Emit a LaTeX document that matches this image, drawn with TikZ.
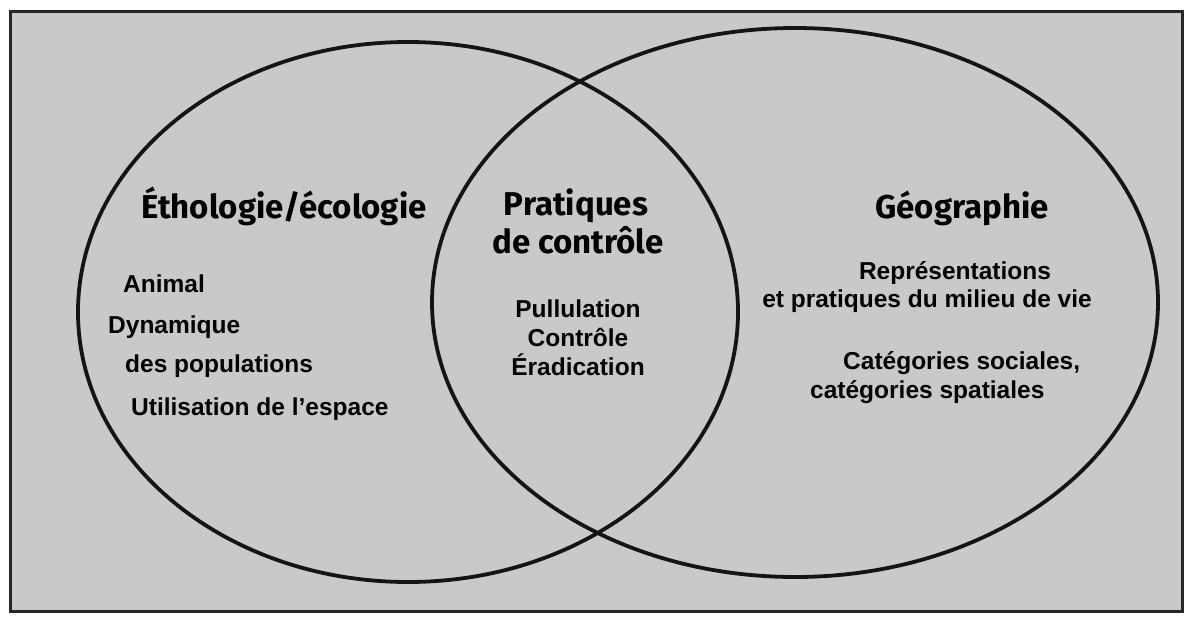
\documentclass[tikz,border=0pt]{standalone}
\usepackage{fontspec}
\setmainfont{Liberation Sans}
\newfontfamily\titlefont{Fira Sans}
\definecolor{paper}{gray}{0.79}
\begin{document}
\begin{tikzpicture}[x=1pt,y=-1pt,
  title/.style={inner sep=0pt, anchor=base, font=\titlefont\bfseries\fontsize{33}{38}\selectfont},
  item/.style={inner sep=0pt, font=\bfseries\fontsize{24.5}{28}\selectfont},
  ring/.style={line width=3.8pt, draw=black!92}]
\useasboundingbox (0,0) rectangle (1188,616);
\fill[white] (0,0) rectangle (1188,616);
\fill[paper] (10,11) rectangle (1182,611);
\draw[line width=3pt, black!85] (10,11) rectangle (1182,611);
% circles
\coordinate (cl) at (408,312);
\coordinate (cr) at (795,302.5);
\draw[ring] (cl) ellipse [x radius=330pt, y radius=270pt];
\draw[ring] (cr) ellipse [x radius=363pt, y radius=274.5pt];
% titles
\node[title] (eth) at (284,218) {Éthologie/écologie};
\node[title] (prat1) at (576,215) {Pratiques};
\node[title] (prat2) at (578,253) {de contrôle};
\node[title] (geo) at (962,218) {Géographie};
% left items
\node[item, anchor=base west] (anim) at (123,292) {Animal};
\node[item, anchor=base west] (dyn) at (108,333) {Dynamique};
\node[item, anchor=base west] (pop) at (125,372) {des populations};
\node[item, anchor=base west] (esp) at (131,415) {Utilisation de l’espace};
% middle items
\node[item, anchor=base] (pul) at (578,317) {Pullulation};
\node[item, anchor=base] (ctl) at (578,346) {Contrôle};
\node[item, anchor=base] (era) at (578,375) {Éradication};
% right items
\node[item, anchor=base] (rep) at (955,279) {Représentations};
\node[item, anchor=base] (mil) at (927,307) {et pratiques du milieu de vie};
\node[item, anchor=base west] (cat1) at (843,369) {Catégories sociales,};
\node[item, anchor=base west] (cat2) at (810,398) {catégories spatiales};
\end{tikzpicture}
\end{document}
